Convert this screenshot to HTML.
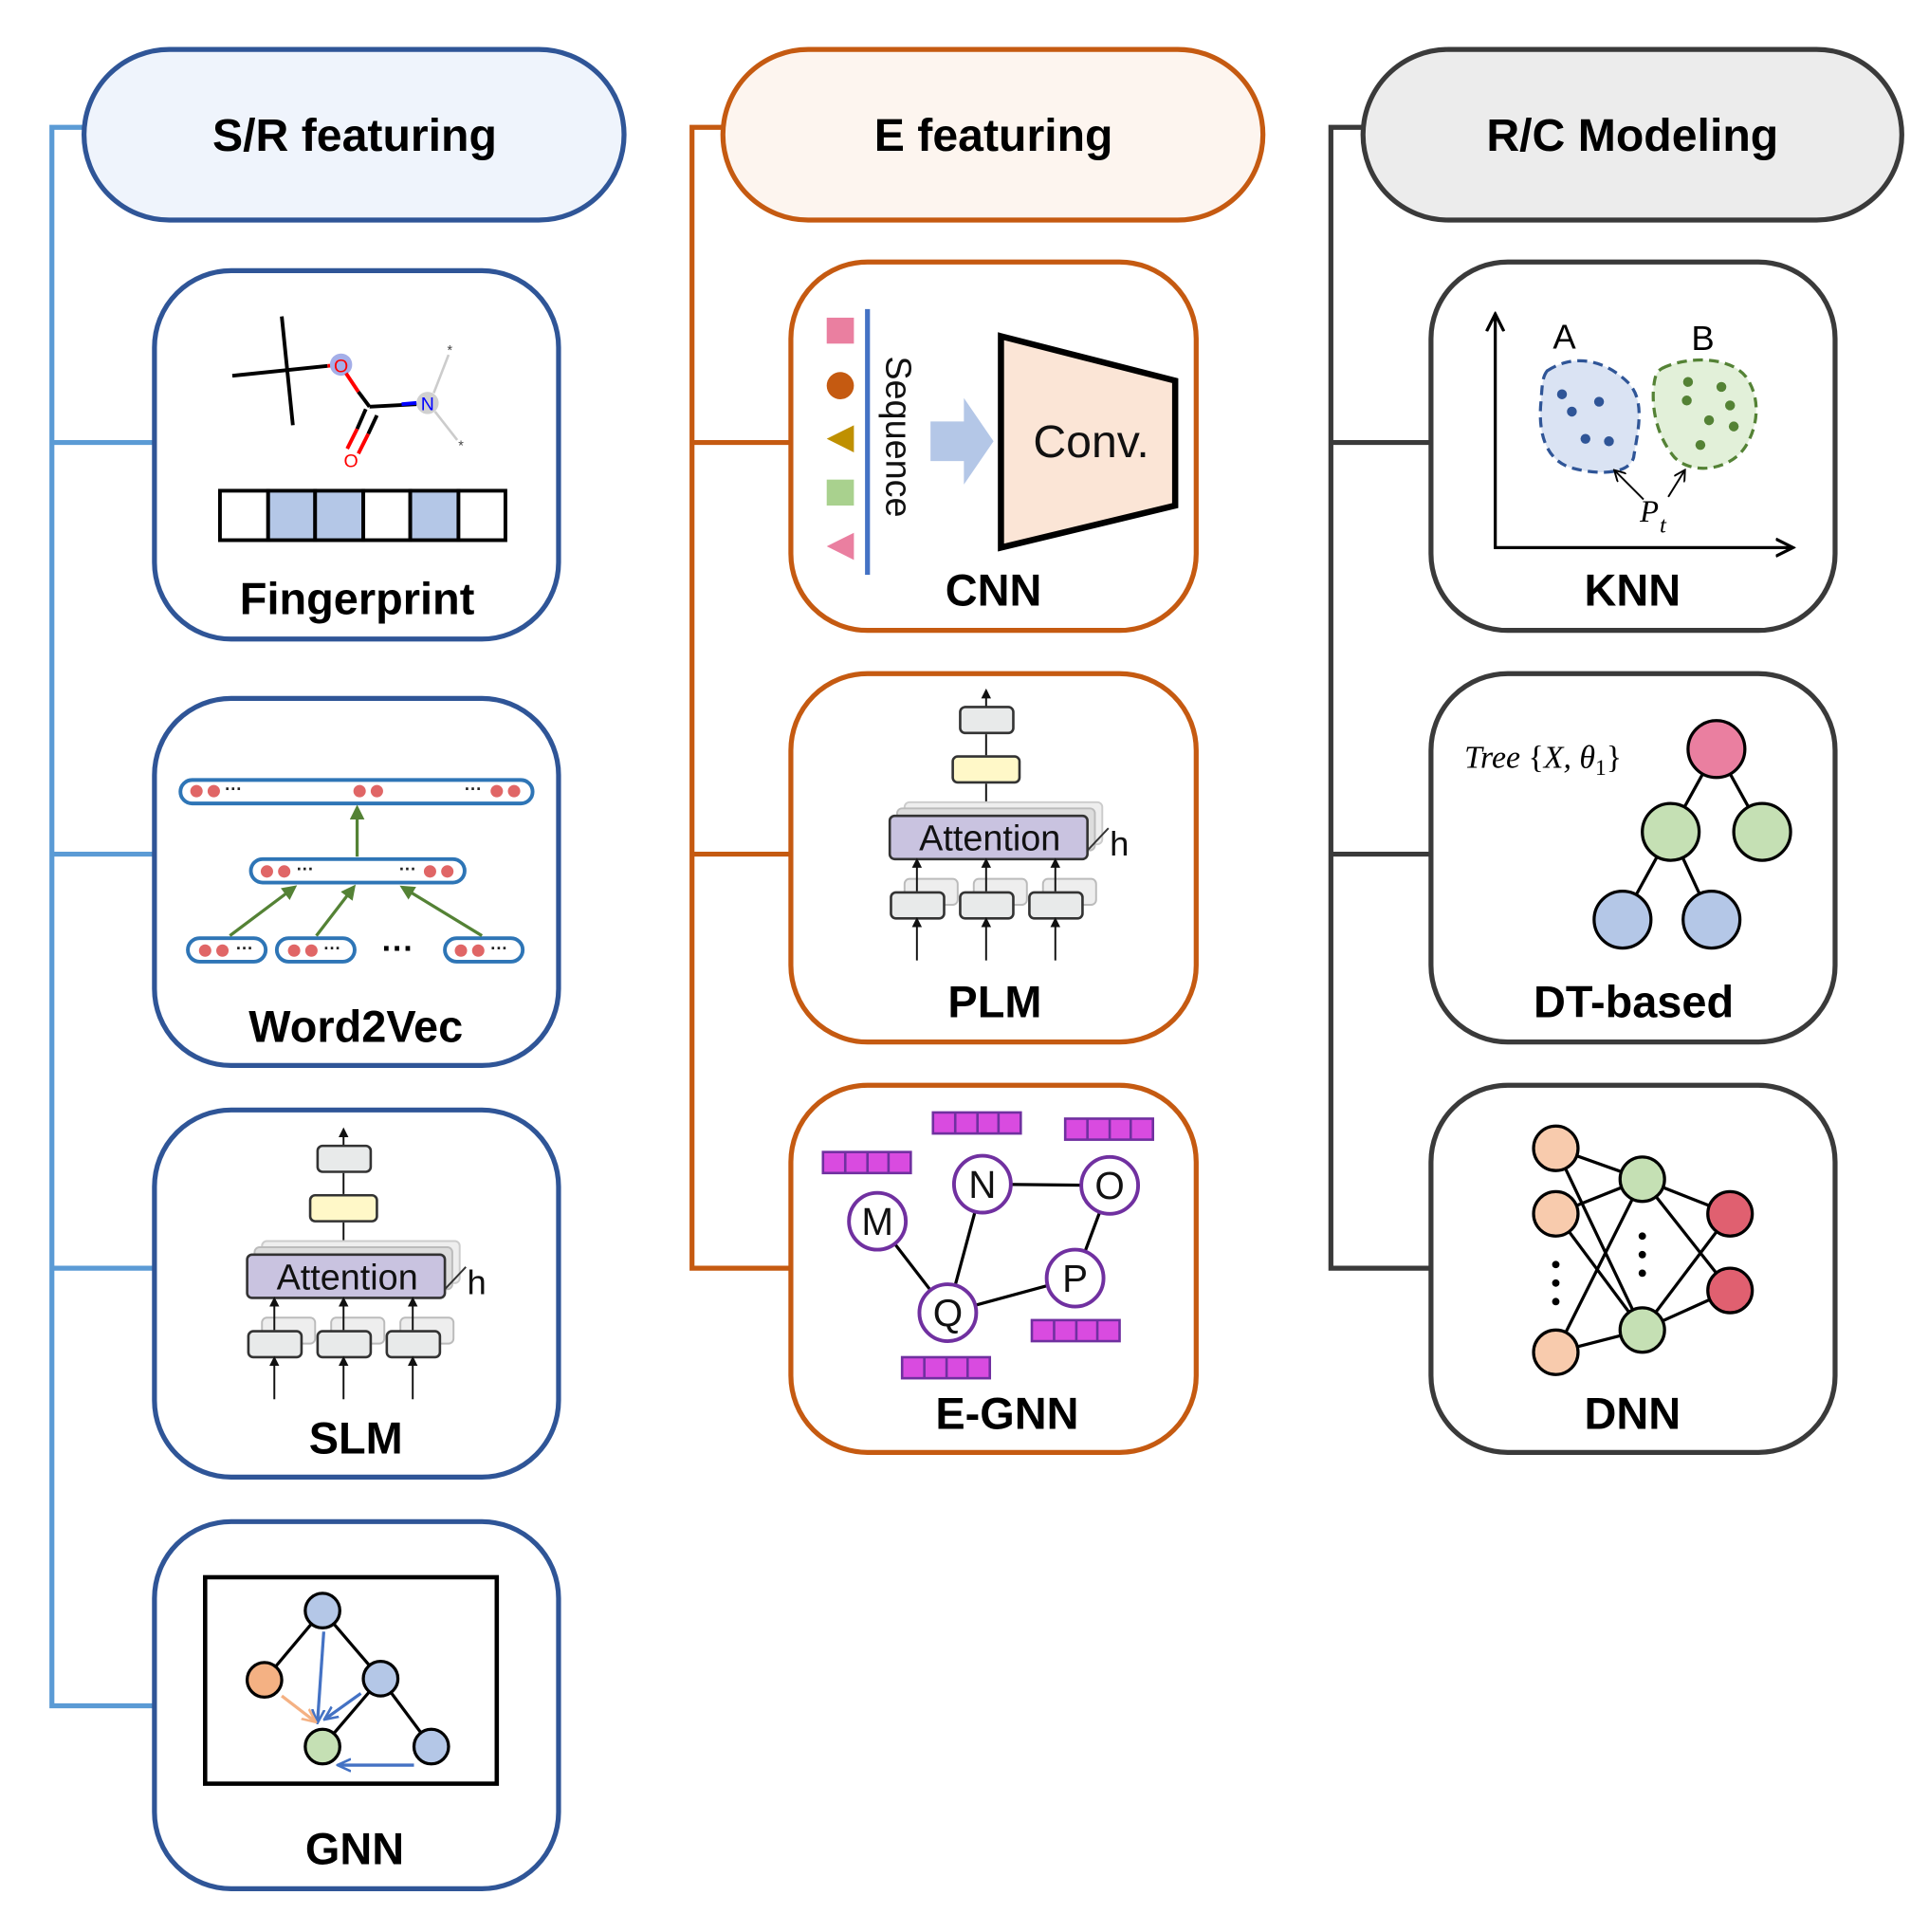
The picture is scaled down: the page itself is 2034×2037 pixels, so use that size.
<!DOCTYPE html>
<html><head><meta charset="utf-8"><style>html,body{margin:0;padding:0;background:#fff}svg{display:block}</style></head>
<body>
<svg width="2034" height="2037" viewBox="0 0 1561 1563" preserveAspectRatio="none" xmlns="http://www.w3.org/2000/svg" font-family="Liberation Sans, Arial, sans-serif">
<defs>
<marker id="ab" markerWidth="8" markerHeight="8" refX="6" refY="4" orient="auto" markerUnits="userSpaceOnUse"><path d="M0,0 L8,4 L0,8 z" fill="#111"/></marker>
<marker id="ag" markerWidth="12" markerHeight="12" refX="9" refY="6" orient="auto" markerUnits="userSpaceOnUse"><path d="M0,0 L12,6 L0,12 z" fill="#548235"/></marker>
<marker id="abl" markerWidth="12" markerHeight="12" refX="9" refY="6" orient="auto" markerUnits="userSpaceOnUse"><path d="M0,1 L11,6 L0,11" fill="none" stroke="#4472c4" stroke-width="2"/></marker>
<marker id="aor" markerWidth="12" markerHeight="12" refX="9" refY="6" orient="auto" markerUnits="userSpaceOnUse"><path d="M0,1 L11,6 L0,11" fill="none" stroke="#f4b183" stroke-width="2"/></marker>
<marker id="ak" markerWidth="16" markerHeight="16" refX="13" refY="8" orient="auto" markerUnits="userSpaceOnUse"><path d="M0,1 L14,8 L0,15" fill="none" stroke="#000" stroke-width="2.5"/></marker>
<marker id="as" markerWidth="10" markerHeight="10" refX="8" refY="5" orient="auto" markerUnits="userSpaceOnUse"><path d="M0,0 L9,5 L0,10" fill="none" stroke="#000" stroke-width="1.5"/></marker>
</defs>

<!-- tree lines -->
<g fill="none" stroke-width="4">
<path d="M68,103 H42 V1380 H125 M42,358 H125 M42,691 H125 M42,1026 H125" stroke="#5b9bd5"/>
<path d="M585,103 H560 V1026 H640 M560,358 H640 M560,691 H640" stroke="#c55a11"/>
<path d="M1103,103 H1077 V1026 H1158 M1077,358 H1158 M1077,691 H1158" stroke="#3a3a3a"/>
</g>

<!-- headers -->
<rect x="68" y="40" width="437" height="138" rx="69" fill="#eff4fc" stroke="#2f5597" stroke-width="4"/>
<text x="287" y="122" font-size="37" font-weight="bold" text-anchor="middle">S/R featuring</text>
<rect x="585" y="40" width="437" height="138" rx="69" fill="#fdf5ef" stroke="#c55a11" stroke-width="4"/>
<text x="804" y="122" font-size="37" font-weight="bold" text-anchor="middle">E featuring</text>
<rect x="1103" y="40" width="436" height="138" rx="69" fill="#ececec" stroke="#3a3a3a" stroke-width="4"/>
<text x="1321" y="122" font-size="37" font-weight="bold" text-anchor="middle">R/C Modeling</text>

<!-- boxes -->
<g fill="#fff" stroke-width="4">
<rect x="125" y="219" width="327" height="298" rx="62" stroke="#2f5597"/>
<rect x="125" y="565" width="327" height="297" rx="62" stroke="#2f5597"/>
<rect x="125" y="898" width="327" height="297" rx="62" stroke="#2f5597"/>
<rect x="125" y="1231" width="327" height="297" rx="62" stroke="#2f5597"/>
<rect x="640" y="212" width="328" height="298" rx="62" stroke="#c55a11"/>
<rect x="640" y="545" width="328" height="298" rx="62" stroke="#c55a11"/>
<rect x="640" y="878" width="328" height="297" rx="62" stroke="#c55a11"/>
<rect x="1158" y="212" width="327" height="298" rx="62" stroke="#3a3a3a"/>
<rect x="1158" y="545" width="327" height="298" rx="62" stroke="#3a3a3a"/>
<rect x="1158" y="878" width="327" height="297" rx="62" stroke="#3a3a3a"/>
</g>

<!-- labels -->
<g font-size="36" font-weight="bold" text-anchor="middle">
<text x="289" y="497">Fingerprint</text>
<text x="288" y="843">Word2Vec</text>
<text x="288" y="1176">SLM</text>
<text x="287" y="1508">GNN</text>
<text x="804" y="490">CNN</text>
<text x="805" y="823">PLM</text>
<text x="815" y="1156">E-GNN</text>
<text x="1321" y="490">KNN</text>
<text x="1322" y="823">DT-based</text>
<text x="1321" y="1156">DNN</text>
</g>

<!-- Fingerprint molecule -->
<g stroke-width="3" fill="none">
<line x1="228" y1="256" x2="237" y2="344" stroke="#000"/>
<line x1="188" y1="304" x2="265" y2="296" stroke="#000"/>
<line x1="265" y1="296" x2="276" y2="295" stroke="#f00"/>
<circle cx="276" cy="295" r="9" fill="#a4aee8" stroke="none"/>
<circle cx="346" cy="326" r="9" fill="#d0d0d0" stroke="none"/>
<line x1="280" y1="302" x2="290" y2="317" stroke="#f00"/>
<line x1="290" y1="317" x2="299" y2="329" stroke="#000"/>
<line x1="299" y1="329" x2="337" y2="327" stroke="#000"/>
<line x1="325" y1="327" x2="337" y2="326" stroke="#00f"/>
<line x1="296" y1="331" x2="289" y2="347" stroke="#000"/>
<line x1="289" y1="347" x2="281" y2="363" stroke="#f00"/>
<line x1="305" y1="336" x2="298" y2="351" stroke="#000"/>
<line x1="298" y1="351" x2="290" y2="367" stroke="#f00"/>
<line x1="351" y1="318" x2="363" y2="287" stroke="#ccc" stroke-width="2"/>
<line x1="352" y1="333" x2="370" y2="356" stroke="#ccc" stroke-width="2"/>
</g>
<text x="276" y="301" font-size="15" fill="#f00" text-anchor="middle">O</text>
<text x="284" y="378" font-size="15" fill="#f00" text-anchor="middle">O</text>
<text x="346" y="332" font-size="15" fill="#00f" text-anchor="middle">N</text>
<text x="364" y="287" font-size="11" fill="#444" text-anchor="middle">*</text>
<text x="373" y="364" font-size="11" fill="#444" text-anchor="middle">*</text>
<g stroke="#000" stroke-width="3">
<rect x="178" y="397" width="39" height="40" fill="#fff"/>
<rect x="217" y="397" width="38" height="40" fill="#b4c7e7"/>
<rect x="255" y="397" width="39" height="40" fill="#b4c7e7"/>
<rect x="294" y="397" width="38" height="40" fill="#fff"/>
<rect x="332" y="397" width="39" height="40" fill="#b4c7e7"/>
<rect x="371" y="397" width="38" height="40" fill="#fff"/>
</g>

<!-- Word2Vec -->
<g stroke="#2e75b6" stroke-width="3" fill="#fff">
<rect x="146" y="631" width="285" height="19" rx="9.5"/>
<rect x="203" y="695" width="173" height="19" rx="9.5"/>
<rect x="152" y="759" width="63" height="19" rx="9.5"/>
<rect x="224" y="759" width="63" height="19" rx="9.5"/>
<rect x="360" y="759" width="63" height="19" rx="9.5"/>
</g>
<g fill="#e06666">
<circle cx="159" cy="640" r="5"/><circle cx="173" cy="640" r="5"/>
<circle cx="291" cy="640" r="5"/><circle cx="305" cy="640" r="5"/>
<circle cx="402" cy="640" r="5"/><circle cx="416" cy="640" r="5"/>
<circle cx="216" cy="705" r="5"/><circle cx="230" cy="705" r="5"/>
<circle cx="348" cy="705" r="5"/><circle cx="362" cy="705" r="5"/>
<circle cx="166" cy="769" r="5"/><circle cx="180" cy="769" r="5"/>
<circle cx="238" cy="769" r="5"/><circle cx="252" cy="769" r="5"/>
<circle cx="373" cy="769" r="5"/><circle cx="387" cy="769" r="5"/>
</g>
<g font-size="14" font-weight="bold" fill="#222">
<text x="182" y="643">···</text><text x="376" y="643">···</text>
<text x="240" y="708">···</text><text x="323" y="708">···</text>
<text x="191" y="772">···</text><text x="262" y="772">···</text><text x="397" y="772">···</text>
</g>
<text x="322" y="776" font-size="26" font-weight="bold" text-anchor="middle">···</text>
<g stroke="#548235" stroke-width="2.5">
<line x1="289" y1="693" x2="289" y2="654" marker-end="url(#ag)"/>
<line x1="186" y1="757" x2="238" y2="718" marker-end="url(#ag)"/>
<line x1="256" y1="757" x2="286" y2="718" marker-end="url(#ag)"/>
<line x1="390" y1="757" x2="326" y2="718" marker-end="url(#ag)"/>
</g>

<!-- SLM transformer -->
<g id="tr">
<line x1="278" y1="927" x2="278" y2="914" stroke="#111" stroke-width="1.5" marker-end="url(#ab)"/>
<rect x="257" y="927" width="43" height="21" rx="4" fill="#e8eaea" stroke="#333" stroke-width="2"/>
<line x1="278" y1="966" x2="278" y2="949" stroke="#111" stroke-width="1.5"/>
<rect x="251" y="967" width="54" height="21" rx="4" fill="#fff8c8" stroke="#333" stroke-width="2"/>
<line x1="278" y1="1014" x2="278" y2="989" stroke="#111" stroke-width="1.5"/>
<rect x="212" y="1004" width="160" height="34" rx="4" fill="#eee" stroke="#ccc" stroke-width="1.5"/>
<rect x="206" y="1009" width="160" height="34" rx="4" fill="#ddd" stroke="#bbb" stroke-width="1.5"/>
<rect x="200" y="1015" width="160" height="35" rx="4" fill="#c9c3e0" stroke="#333" stroke-width="2"/>
<text x="281" y="1043" font-size="29" text-anchor="middle" fill="#111">Attention</text>
<line x1="360" y1="1043" x2="377" y2="1025" stroke="#333" stroke-width="1.5"/>
<text x="378" y="1047" font-size="28" fill="#111">h</text>
<g fill="#eee" stroke="#bbb" stroke-width="1.5">
<rect x="212" y="1066" width="43" height="21" rx="4"/><rect x="268" y="1066" width="43" height="21" rx="4"/><rect x="324" y="1066" width="43" height="21" rx="4"/>
</g>
<g fill="#e8eaea" stroke="#333" stroke-width="2">
<rect x="201" y="1077" width="43" height="21" rx="4"/><rect x="257" y="1077" width="43" height="21" rx="4"/><rect x="313" y="1077" width="43" height="21" rx="4"/>
</g>
<g stroke="#111" stroke-width="1.5">
<line x1="222" y1="1076" x2="222" y2="1051" marker-end="url(#ab)"/><line x1="278" y1="1076" x2="278" y2="1051" marker-end="url(#ab)"/><line x1="334" y1="1076" x2="334" y2="1051" marker-end="url(#ab)"/>
<line x1="222" y1="1132" x2="222" y2="1099" marker-end="url(#ab)"/><line x1="278" y1="1132" x2="278" y2="1099" marker-end="url(#ab)"/><line x1="334" y1="1132" x2="334" y2="1099" marker-end="url(#ab)"/>
</g>
</g>
<!-- PLM: reuse -->
<use href="#tr" transform="translate(520,-355)"/>

<!-- GNN -->
<rect x="166" y="1276" width="236" height="167" fill="#fff" stroke="#000" stroke-width="3.5"/>
<g stroke="#000" stroke-width="2.5">
<line x1="261" y1="1303" x2="214" y2="1359"/><line x1="261" y1="1303" x2="308" y2="1358"/>
<line x1="308" y1="1358" x2="261" y2="1413"/><line x1="308" y1="1358" x2="349" y2="1413"/>
</g>
<line x1="262" y1="1320" x2="257" y2="1392" stroke="#4472c4" stroke-width="2.5" marker-end="url(#abl)"/>
<line x1="292" y1="1370" x2="264" y2="1390" stroke="#4472c4" stroke-width="2.5" marker-end="url(#abl)"/>
<line x1="335" y1="1428" x2="275" y2="1428" stroke="#4472c4" stroke-width="2.5" marker-end="url(#abl)"/>
<line x1="228" y1="1372" x2="254" y2="1392" stroke="#f4b183" stroke-width="2.5" marker-end="url(#aor)"/>
<g stroke="#000" stroke-width="2.5">
<circle cx="261" cy="1303" r="14" fill="#b4c7e7"/>
<circle cx="214" cy="1359" r="14" fill="#f4b183"/>
<circle cx="308" cy="1358" r="14" fill="#b4c7e7"/>
<circle cx="261" cy="1413" r="14" fill="#c5e0b4"/>
<circle cx="349" cy="1413" r="14" fill="#b4c7e7"/>
</g>

<!-- CNN -->
<rect x="669" y="257" width="22" height="21" fill="#ea7fa0"/>
<circle cx="680" cy="312" r="11" fill="#c55a11"/>
<path d="M669,355 L691,344 L691,366 z" fill="#bf9000"/>
<rect x="669" y="388" width="22" height="21" fill="#a9d18e"/>
<path d="M669,442 L691,431 L691,453 z" fill="#ea7fa0"/>
<line x1="702" y1="250" x2="702" y2="465" stroke="#4472c4" stroke-width="4"/>
<text transform="translate(717,288) rotate(90)" font-size="29" fill="#111">Sequence</text>
<path d="M753,341 H780 V322 L804,357 L780,392 V373 H753 z" fill="#b4c7e7"/>
<path d="M810,272 L951,308 V409 L810,443 z" fill="#fbe5d6" stroke="#000" stroke-width="5"/>
<text x="883" y="370" font-size="37" text-anchor="middle" fill="#111">Conv.</text>

<!-- E-GNN -->
<g fill="#d94be0" stroke="#7030a0" stroke-width="2">
<rect x="666" y="932" width="71" height="17"/><rect x="755" y="900" width="71" height="17"/>
<rect x="862" y="905" width="71" height="17"/><rect x="835" y="1068" width="71" height="17"/>
<rect x="730" y="1098" width="71" height="17"/>
</g>
<g stroke="#7030a0" stroke-width="2">
<line x1="684" y1="932" x2="684" y2="949"/><line x1="702" y1="932" x2="702" y2="949"/><line x1="719" y1="932" x2="719" y2="949"/>
<line x1="773" y1="900" x2="773" y2="917"/><line x1="791" y1="900" x2="791" y2="917"/><line x1="808" y1="900" x2="808" y2="917"/>
<line x1="880" y1="905" x2="880" y2="922"/><line x1="898" y1="905" x2="898" y2="922"/><line x1="915" y1="905" x2="915" y2="922"/>
<line x1="853" y1="1068" x2="853" y2="1085"/><line x1="871" y1="1068" x2="871" y2="1085"/><line x1="888" y1="1068" x2="888" y2="1085"/>
<line x1="748" y1="1098" x2="748" y2="1115"/><line x1="766" y1="1098" x2="766" y2="1115"/><line x1="783" y1="1098" x2="783" y2="1115"/>
</g>
<g stroke="#000" stroke-width="2.5">
<line x1="710" y1="988" x2="767" y2="1062"/><line x1="795" y1="958" x2="767" y2="1062"/>
<line x1="795" y1="958" x2="898" y2="959"/><line x1="898" y1="959" x2="870" y2="1034"/>
<line x1="767" y1="1062" x2="870" y2="1034"/>
</g>
<g fill="#fff" stroke="#7030a0" stroke-width="3">
<circle cx="710" cy="988" r="23"/><circle cx="795" cy="958" r="23"/><circle cx="898" cy="959" r="23"/>
<circle cx="870" cy="1034" r="23"/><circle cx="767" cy="1062" r="23"/>
</g>
<g font-size="31" text-anchor="middle" fill="#111">
<text x="710" y="999">M</text><text x="795" y="969">N</text><text x="898" y="970">O</text>
<text x="870" y="1045">P</text><text x="767" y="1073">Q</text>
</g>

<!-- KNN -->
<line x1="1210" y1="444" x2="1210" y2="255" stroke="#000" stroke-width="2.5" marker-end="url(#ak)"/>
<line x1="1209" y1="443" x2="1450" y2="443" stroke="#000" stroke-width="2.5" marker-end="url(#ak)"/>
<path d="M1252,300 C1275,285 1300,292 1318,310 C1332,325 1325,350 1322,370 C1318,385 1290,384 1270,378 C1248,370 1245,345 1247,325 C1248,312 1248,305 1252,300 z" fill="#dae3f3" stroke="#2f5597" stroke-width="2.5" stroke-dasharray="8,5"/>
<path d="M1345,298 C1365,288 1400,288 1413,305 C1425,322 1423,345 1412,362 C1400,380 1370,385 1355,370 C1340,352 1337,330 1338,315 C1339,305 1340,301 1345,298 z" fill="#e2f0d9" stroke="#548235" stroke-width="2.5" stroke-dasharray="8,5"/>
<g fill="#2f5597"><circle cx="1264" cy="319" r="4"/><circle cx="1294" cy="325" r="4"/><circle cx="1272" cy="333" r="4"/><circle cx="1283" cy="355" r="4"/><circle cx="1302" cy="357" r="4"/></g>
<g fill="#548235"><circle cx="1366" cy="309" r="4"/><circle cx="1393" cy="313" r="4"/><circle cx="1365" cy="324" r="4"/><circle cx="1400" cy="328" r="4"/><circle cx="1383" cy="340" r="4"/><circle cx="1403" cy="345" r="4"/><circle cx="1376" cy="360" r="4"/></g>
<text x="1266" y="282" font-size="28" text-anchor="middle">A</text>
<text x="1378" y="283" font-size="28" text-anchor="middle">B</text>
<line x1="1330" y1="404" x2="1307" y2="381" stroke="#000" stroke-width="1.5" marker-end="url(#as)"/>
<line x1="1350" y1="402" x2="1363" y2="381" stroke="#000" stroke-width="1.5" marker-end="url(#as)"/>
<text x="1327" y="422" font-size="25" font-style="italic" font-family="Liberation Serif, serif">P</text>
<text x="1343" y="431" font-size="19" font-style="italic" font-family="Liberation Serif, serif">t</text>

<!-- DT -->
<text x="1185" y="621" font-size="26" font-family="Liberation Serif, serif" font-style="italic">Tree <tspan font-style="normal">{</tspan>X, θ<tspan font-style="normal" font-size="18" dy="6">1</tspan><tspan font-style="normal" dy="-6">}</tspan></text>
<g stroke="#000" stroke-width="2.5">
<line x1="1389" y1="606" x2="1352" y2="673"/><line x1="1389" y1="606" x2="1426" y2="673"/>
<line x1="1352" y1="673" x2="1313" y2="744"/><line x1="1352" y1="673" x2="1385" y2="744"/>
<circle cx="1389" cy="606" r="23" fill="#ea7fa0"/>
<circle cx="1352" cy="673" r="23" fill="#c5e0b4"/><circle cx="1426" cy="673" r="23" fill="#c5e0b4"/>
<circle cx="1313" cy="744" r="23" fill="#b4c7e7"/><circle cx="1385" cy="744" r="23" fill="#b4c7e7"/>
</g>

<!-- DNN -->
<g stroke="#000" stroke-width="2.5">
<line x1="1259" y1="929" x2="1329" y2="954"/><line x1="1259" y1="929" x2="1329" y2="1076"/>
<line x1="1259" y1="982" x2="1329" y2="954"/><line x1="1259" y1="982" x2="1329" y2="1076"/>
<line x1="1259" y1="1094" x2="1329" y2="954"/><line x1="1259" y1="1094" x2="1329" y2="1076"/>
<line x1="1329" y1="954" x2="1400" y2="982"/><line x1="1329" y1="954" x2="1400" y2="1044"/>
<line x1="1329" y1="1076" x2="1400" y2="982"/><line x1="1329" y1="1076" x2="1400" y2="1044"/>
<circle cx="1259" cy="929" r="18" fill="#f8cbad"/><circle cx="1259" cy="982" r="18" fill="#f8cbad"/><circle cx="1259" cy="1094" r="18" fill="#f8cbad"/>
<circle cx="1329" cy="954" r="18" fill="#c5e0b4"/><circle cx="1329" cy="1076" r="18" fill="#c5e0b4"/>
<circle cx="1400" cy="982" r="18" fill="#e06070"/><circle cx="1400" cy="1044" r="18" fill="#e06070"/>
</g>
<g fill="#000"><circle cx="1259" cy="1023" r="3"/><circle cx="1259" cy="1038" r="3"/><circle cx="1259" cy="1053" r="3"/>
<circle cx="1329" cy="1000" r="3"/><circle cx="1329" cy="1015" r="3"/><circle cx="1329" cy="1030" r="3"/></g>
</svg>
</body></html>
